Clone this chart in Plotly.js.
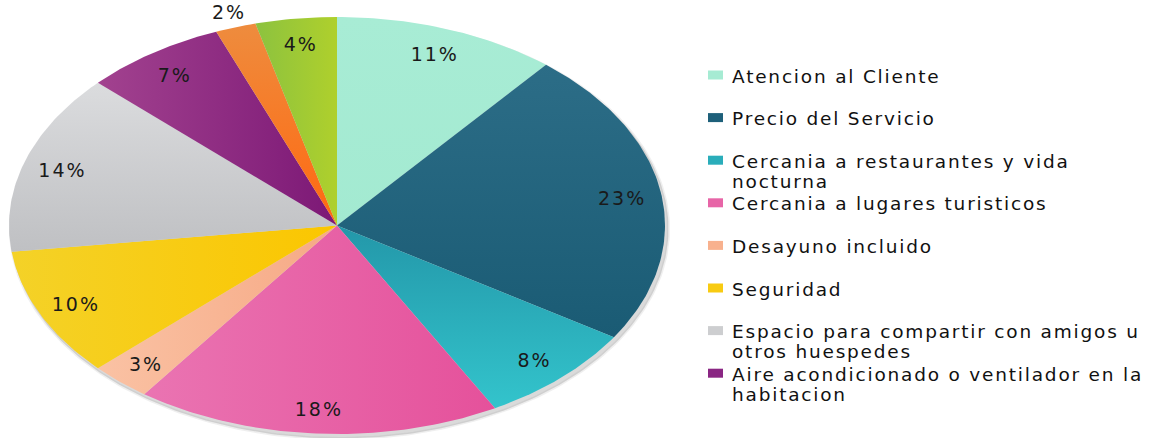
<!DOCTYPE html>
<html>
<head>
<meta charset="utf-8">
<script src="https://cdn.plot.ly/plotly-3.0.1.min.js"></script>
<style>
  html, body { margin: 0; padding: 0; background: #ffffff; }
  #chart { width: 1155px; height: 438px; }
  #chart .annotation-text { letter-spacing: 1.8px; }
  #chart .textpoint text { letter-spacing: 2px; }
</style>
</head>
<body>
<div id="chart"></div>
<script>
// ---- data ----
const categories = [
  "Atencion al Cliente",
  "Precio del Servicio",
  "Cercania a restaurantes y vida nocturna",
  "Cercania a lugares turisticos",
  "Desayuno incluido",
  "Seguridad",
  "Espacio para compartir con amigos u otros huespedes",
  "Aire acondicionado o ventilador en la habitacion",
  "Otro 1",
  "Otro 2"
];
const legendLabels = [
  ["Atencion al Cliente"],
  ["Precio del Servicio"],
  ["Cercania a restaurantes y vida", "nocturna"],
  ["Cercania a lugares turisticos"],
  ["Desayuno incluido"],
  ["Seguridad"],
  ["Espacio para compartir con amigos u", "otros huespedes"],
  ["Aire acondicionado o ventilador en la", "habitacion"]
];
const values = [11, 23, 8, 18, 3, 10, 14, 7, 2, 4];
const colors = [
  "#A6EBD3", "#1E607A", "#2AADBA", "#E765A7", "#F8B18E",
  "#F8CB12", "#CDCED0", "#8A2683", "#F97A22", "#9CC834"
];
// subtle shading per slice: [type, lowColor, highColor]
const shading = [
  ["vertical", "#A3EAD1", "#A8ECD5"],
  ["vertical", "#1A5B74", "#2C6D87"],
  ["vertical", "#33C4CC", "#2397A9"],
  ["horizontal", "#EA74B2", "#E5519B"],
  ["horizontal", "#FAC2A4", "#F6A985"],
  ["horizontal", "#F4D228", "#FBC600"],
  ["vertical", "#BFC0C3", "#DBDCDE"],
  ["horizontal", "#A2428F", "#7C1876"],
  ["vertical", "#FF6810", "#EE8C3E"],
  ["horizontal", "#8CC23F", "#AFD02C"]
];

// ---- geometry (layout) ----
const W = 1155, H = 438;
const CX = 337, CY = 225.5, RX = 328, RY = 208.5;

const total = values.reduce((a, b) => a + b, 0);
const traces = [];

// soft drop shadow behind the pie
{
  const sx = [], sy = [];
  for (let k = 0; k <= 360; k++) {
    const a = 2 * Math.PI * k / 360;
    sx.push(Math.sin(a) * (RX + 1) / RX + 2.5 / RX);
    sy.push(Math.cos(a) * (RY + 1) / RY - 3.5 / RY);
  }
  traces.push({
    type: "scatter", x: sx, y: sy, mode: "lines", fill: "toself",
    fillcolor: "rgba(150,150,150,0.35)", line: { color: "rgba(150,150,150,0.15)", width: 3 },
    hoverinfo: "skip", showlegend: false
  });
}

let cum = 0;
const midT = [];
values.forEach((v, i) => {
  const t0 = cum / total, t1 = (cum + v) / total;
  cum += v;
  midT.push((t0 + t1) / 2);
  const n = Math.max(6, Math.ceil(v * 4));
  const xs = [0], ys = [0];
  for (let k = 0; k <= n; k++) {
    const t = t0 + (t1 - t0) * k / n;
    xs.push(Math.sin(2 * Math.PI * t));
    ys.push(Math.cos(2 * Math.PI * t));
  }
  xs.push(0); ys.push(0);
  traces.push({
    type: "scatter", x: xs, y: ys, mode: "lines",
    fill: "toself", fillcolor: colors[i],
    fillgradient: { type: shading[i][0], colorscale: [[0, shading[i][1]], [1, shading[i][2]]] },
    line: { color: colors[i], width: 0 },
    name: categories[i], hoverinfo: "name", showlegend: false
  });
});

// percentage labels
const lx = [], ly = [], lt = [];
values.forEach((v, i) => {
  const small = (v / total) < 0.025;
  const r = small ? 1.065 : 0.88;
  const a = 2 * Math.PI * midT[i];
  lx.push(r * Math.sin(a));
  ly.push(r * Math.cos(a) - (small ? 0 : 3 / RY));
  lt.push(v + "%");
});
traces.push({
  type: "scatter", x: lx, y: ly, mode: "text", text: lt,
  textposition: "middle center",
  textfont: { family: "DejaVu Sans, Verdana, sans-serif", size: 19, color: "#1a1a1a" },
  hoverinfo: "skip", showlegend: false
});

// custom legend (slot spacing fixed, as in the reference)
const annotations = [], shapes = [];
const slot0 = 75, slotStep = 42.6, lineStep = 20, fs = 18.5;
legendLabels.forEach((lines, i) => {
  const yc = slot0 + i * slotStep;
  shapes.push({
    type: "rect", xref: "paper", yref: "paper",
    x0: 708 / W, x1: 723 / W,
    y0: 1 - (yc + 4.5) / H, y1: 1 - (yc - 4.5) / H,
    fillcolor: colors[i], line: { width: 0 }
  });
  lines.forEach((txt, j) => {
    annotations.push({
      xref: "paper", yref: "paper",
      x: 730 / W, y: 1 - (yc + j * lineStep + 1) / H,
      xanchor: "left", yanchor: "middle", align: "left",
      text: txt, showarrow: false,
      font: { family: "DejaVu Sans, Verdana, sans-serif", size: fs, color: "#111111" }
    });
  });
});

const layout = {
  width: W, height: H,
  margin: { l: 0, r: 0, t: 0, b: 0 },
  paper_bgcolor: "#ffffff", plot_bgcolor: "#ffffff",
  showlegend: false,
  xaxis: { range: [-CX / RX, (W - CX) / RX], visible: false, fixedrange: true },
  yaxis: { range: [-(H - CY) / RY, CY / RY], visible: false, fixedrange: true },
  annotations: annotations,
  shapes: shapes
};

Plotly.newPlot("chart", traces, layout, { displayModeBar: false, staticPlot: true });
</script>
</body>
</html>
